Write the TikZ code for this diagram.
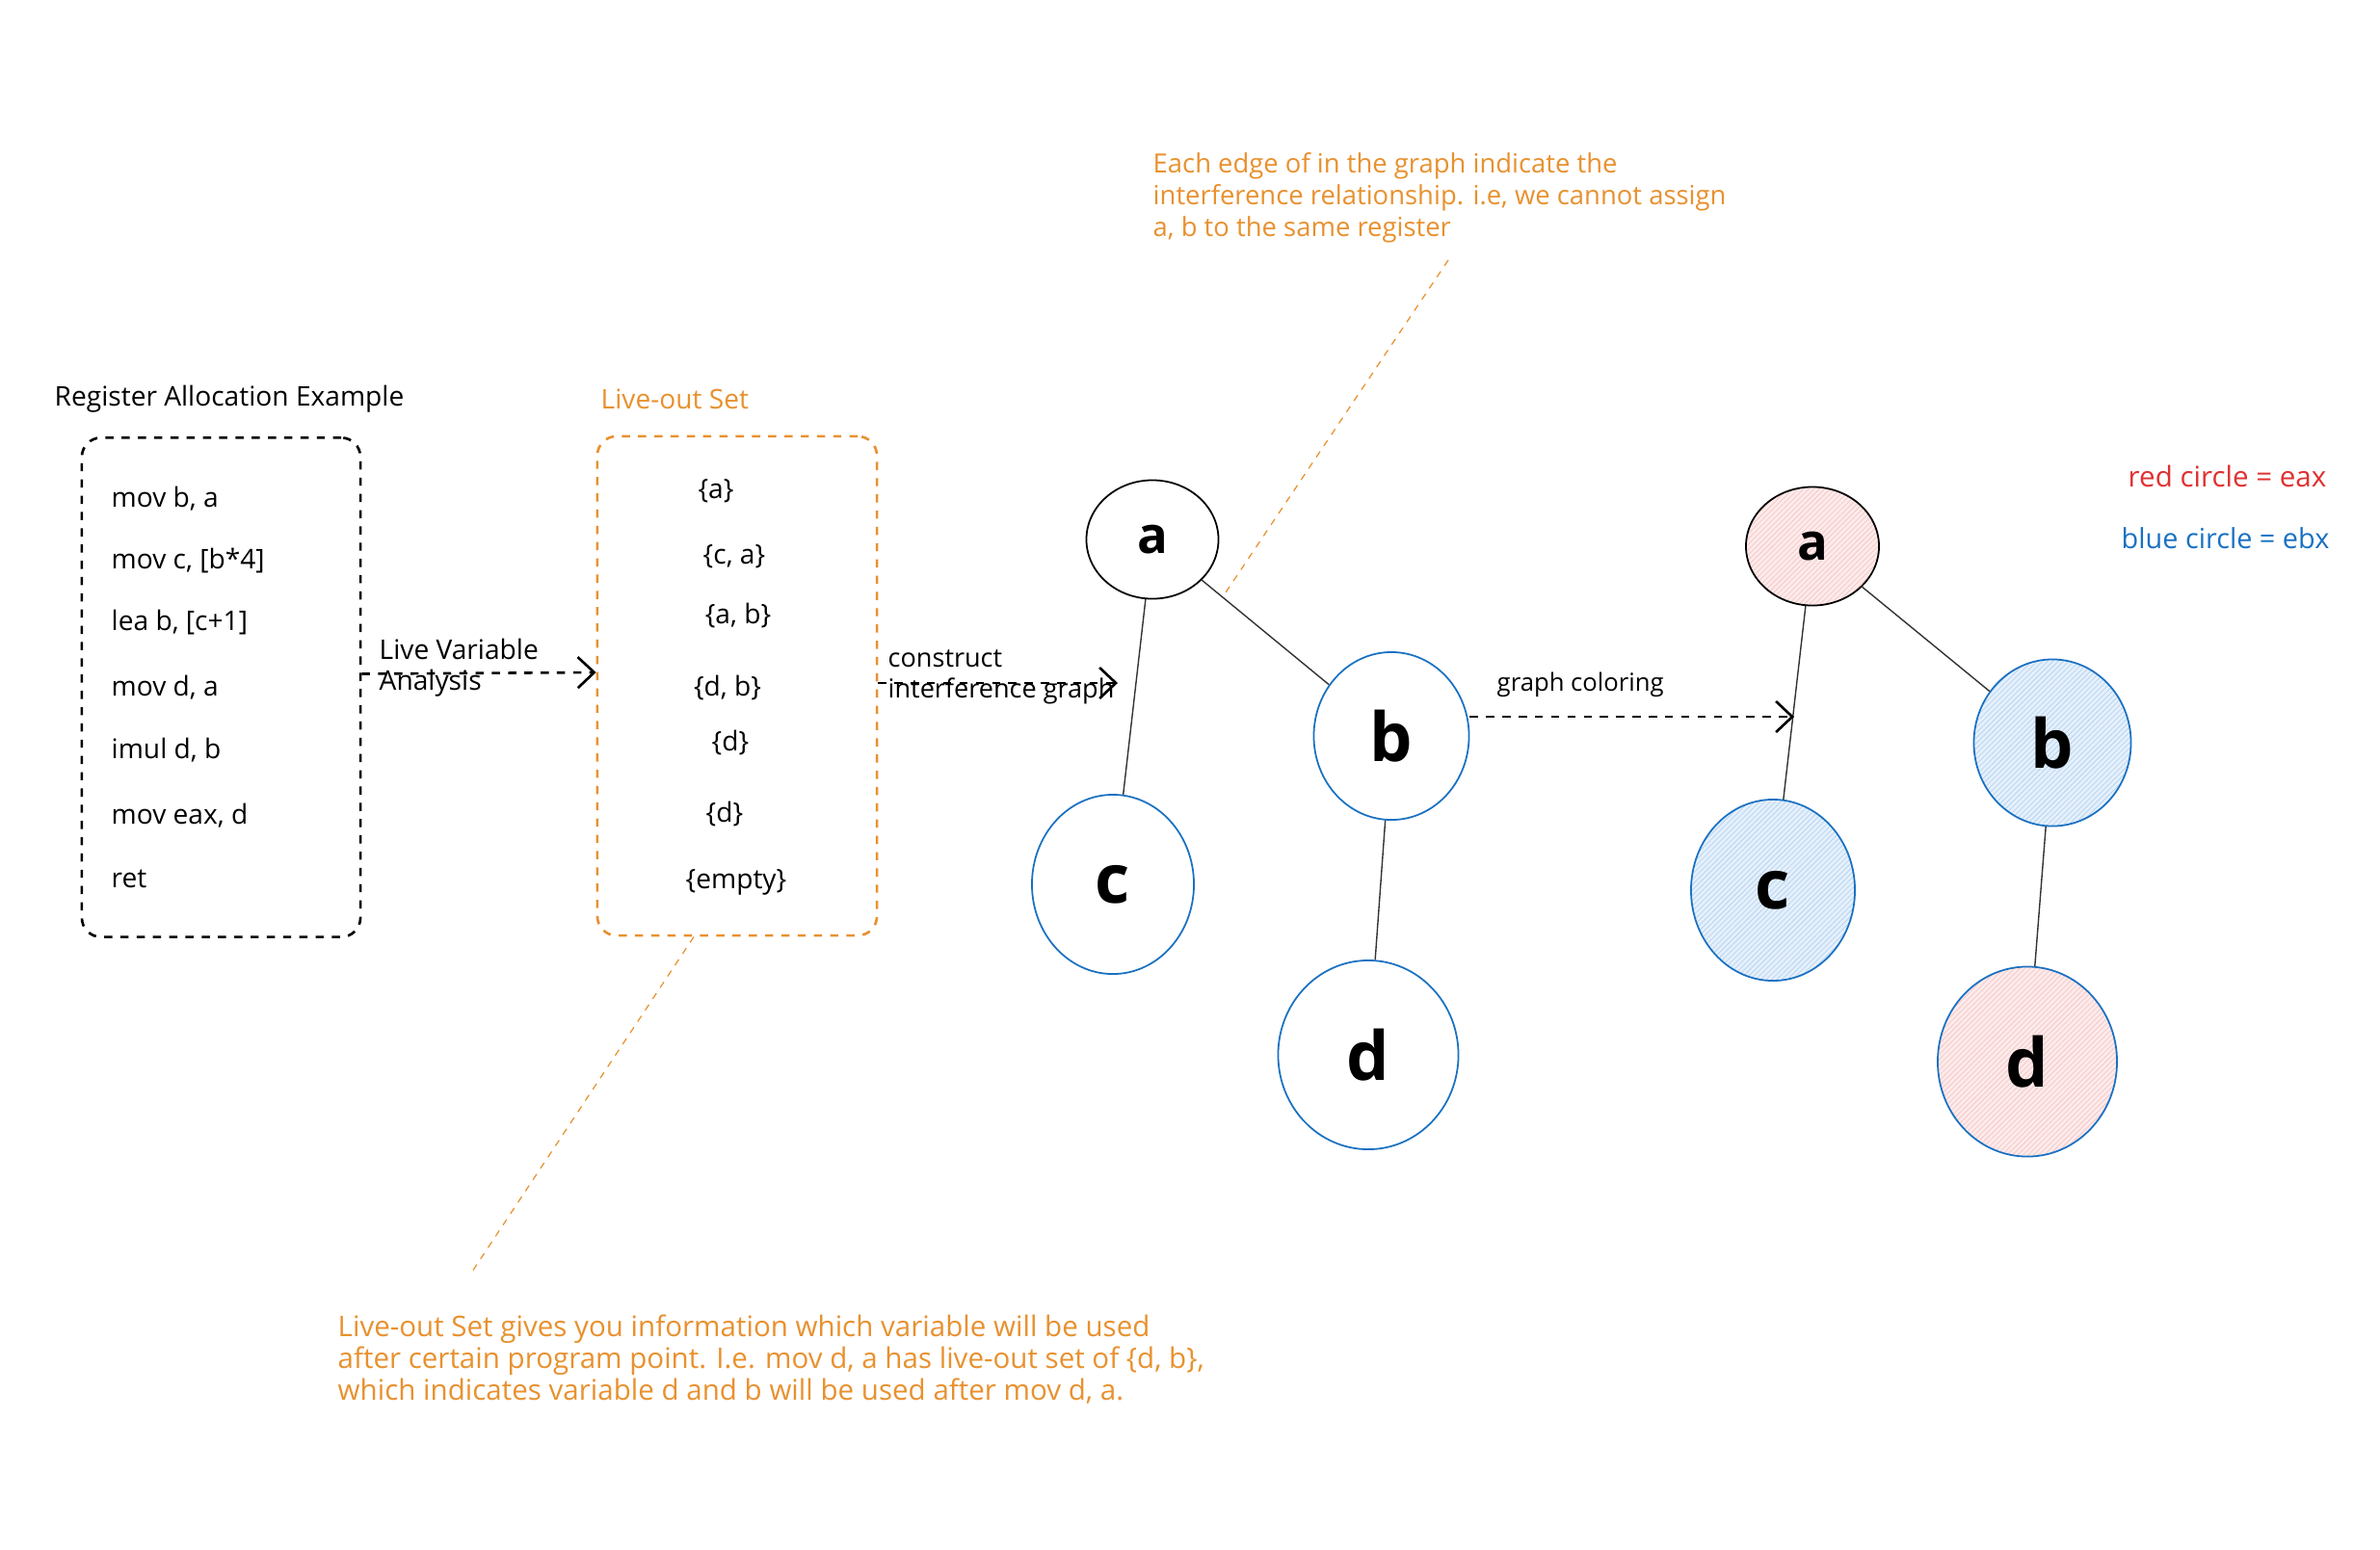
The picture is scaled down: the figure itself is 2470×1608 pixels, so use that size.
\documentclass[tikz,border=0pt]{standalone}
\usepackage{fontspec}
\setmainfont{Open Sans}
\usetikzlibrary{shapes.geometric,arrows.meta,patterns.meta}
\definecolor{exorange}{HTML}{E8912F}
\definecolor{exred}{HTML}{E03131}
\definecolor{exblue}{HTML}{1971C2}
\definecolor{fillred}{HTML}{FDEBEB}
\definecolor{hatchred}{HTML}{F6C6C6}
\definecolor{fillblue}{HTML}{E6F0FB}
\definecolor{hatchblue}{HTML}{B4D4F2}
\begin{document}
\begin{tikzpicture}[x=0.01cm,y=-0.01cm,
  txt/.style={font=\fontsize{8}{10}\selectfont, inner sep=0pt, anchor=west},
  settxt/.style={font=\fontsize{8}{10}\selectfont, inner sep=0pt},
  note/.style={inner sep=0pt, anchor=north west, align=left, text=exorange},
  codebox/.style={draw, dashed, dash pattern=on 2.4pt off 2.4pt, line width=0.75pt, rounded corners=2mm, inner sep=0pt},
  arr/.style={-{Straight Barb[length=1.7mm,width=3.2mm]}, dashed, dash pattern=on 2.4pt off 2.4pt, line width=0.75pt},
  leader/.style={exorange, line width=0.35pt, dash pattern=on 2pt off 2pt},
  edge/.style={line width=0.4pt, black!80},
  vert/.style={ellipse, draw, line width=0.5pt, inner sep=0pt, font=\fontsize{20}{20}\selectfont\bfseries},
  redfill/.style={preaction={fill=fillred}, pattern={Lines[angle=45,distance=1.1pt,line width=0.22pt]}, pattern color=hatchred},
  bluefill/.style={preaction={fill=fillblue}, pattern={Lines[angle=45,distance=1.1pt,line width=0.22pt]}, pattern color=hatchblue}
]
\useasboundingbox[fill=white] (0,0) rectangle (2470,1608);

% left code box
\node[txt] (title) at (56,414) {Register Allocation Example};
\node[codebox, minimum width=2.89cm, minimum height=5.18cm] (code) at (229.5,713.5) {};
\node[txt] (l1) at (115,518) {mov b, a};
\node[txt] (l2) at (115,582) {mov c, [b*4]};
\node[txt] (l3) at (115,646) {lea b, [c+1]};
\node[txt] (l4) at (115,714) {mov d, a};
\node[txt] (l5) at (115,779) {imul d, b};
\node[txt] (l6) at (115,847) {mov eax, d};
\node[txt] (l7) at (115,912) {ret};

% live-out box
\node[txt, text=exorange] (lotitle) at (623,414) {Live-out Set};
\node[codebox, draw=exorange, minimum width=2.9cm, minimum height=5.18cm] (live) at (765,712) {};
\node[settxt] (s1) at (743,510) {\{a\}};
\node[settxt] (s2) at (762,578) {\{c, a\}};
\node[settxt] (s3) at (766,639) {\{a, b\}};
\node[settxt] (s4) at (755,714) {\{d, b\}};
\node[settxt] (s5) at (758,771) {\{d\}};
\node[settxt] (s6) at (752,845) {\{d\}};
\node[settxt] (s7) at (764,916) {\{empty\}};

% arrow 1
\draw[arr] ([yshift=0.14cm]code.east) -- ([yshift=0.14cm]live.west);
\node[txt, align=left, anchor=north west, font=\fontsize{8}{9.2}\selectfont] (lva) at (393,662) {Live Variable\\Analysis};

% graph 1
\node[vert, minimum width=1.37cm, minimum height=1.23cm, font=\fontsize{15}{15}\selectfont\bfseries] (a1) at (1196,560) {a};
\node[vert, draw=exblue, minimum width=1.61cm, minimum height=1.74cm] (b1) at (1444,764) {b};
\node[vert, draw=exblue, minimum width=1.68cm, minimum height=1.86cm] (c1) at (1155,918) {c};
\node[vert, draw=exblue, minimum width=1.87cm, minimum height=1.96cm] (d1) at (1420,1095) {d};
\draw[edge] (a1) -- (c1);
\draw[edge] (a1) -- (b1);
\draw[edge] (b1) -- (d1);

% arrow 2
\coordinate (ig) at (1160,709);
\draw[arr] (live.east |- ig) -- (ig);
\node[txt, align=left, anchor=north west, font=\fontsize{7.7}{9}\selectfont] (cig) at (921,674) {construct\\interference graph};

% graph 2
\node[vert, redfill, minimum width=1.38cm, minimum height=1.23cm, font=\fontsize{15}{15}\selectfont\bfseries] (a2) at (1881,567) {a};
\node[vert, bluefill, draw=exblue, minimum width=1.63cm, minimum height=1.73cm] (b2) at (2130,771) {b};
\node[vert, bluefill, draw=exblue, minimum width=1.70cm, minimum height=1.88cm] (c2) at (1840,924) {c};
\node[vert, redfill, draw=exblue, minimum width=1.86cm, minimum height=1.97cm] (d2) at (2104,1102) {d};
\draw[edge] (a2) -- (c2);
\draw[edge] (a2) -- (b2);
\draw[edge] (b2) -- (d2);

% arrow 3
\coordinate (gc) at (1862,744);
\draw[arr] (b1.east |- gc) -- (gc);
\node[txt, font=\fontsize{7.3}{9}\selectfont] (gcl) at (1553,711) {graph coloring};

% legend
\node[txt, text=exred, font=\fontsize{8.4}{10}\selectfont] (leg1) at (2208,494) {red circle = eax};
\node[txt, text=exblue, font=\fontsize{8.2}{10}\selectfont] (leg2) at (2201,559) {blue circle = ebx};

% annotations
\node[note, font=\fontsize{7.8}{9.4}\selectfont] (n1) at (1196,158) {Each edge of in the graph indicate the\\interference relationship. i.e, we cannot assign\\a, b to the same register};
\coordinate (n1tip) at (1270,618);
\draw[leader] (1503,270) -- (n1tip);

\node[note, font=\fontsize{8.4}{9.4}\selectfont] (n2) at (350,1364) {Live-out Set gives you information which variable will be used\\after certain program point. I.e. mov d, a has live-out set of \{d, b\},\\which indicates variable d and b will be used after mov d, a.};
\coordinate (n2tip) at (488,1323);
\draw[leader] (live.south -| 720,0) -- (n2tip);
\end{tikzpicture}
\end{document}
